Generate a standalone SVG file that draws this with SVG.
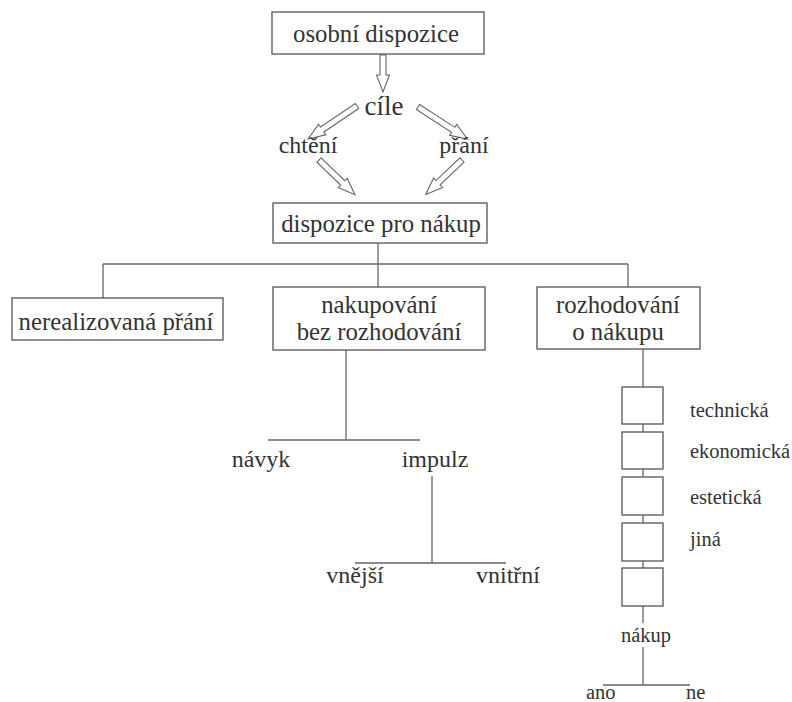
<svg xmlns="http://www.w3.org/2000/svg" width="792" height="702" viewBox="0 0 792 702">
<style>
.box{fill:#fff;stroke:#555;stroke-width:1.3}
.ln{stroke:#666;stroke-width:1.3;fill:none}
.arr{fill:#fff;stroke:#666;stroke-width:1.1;stroke-linejoin:miter}
text{font-family:"Liberation Serif","DejaVu Serif",serif;fill:#333}
.big{font-size:24.8px;text-anchor:middle}
.mid{font-size:24px;text-anchor:middle}
.sm{font-size:20.5px}
</style>
<rect width="792" height="702" fill="#fff"/>
<g id="connectors">
<line class="ln" x1="378" y1="243" x2="378" y2="287"/>
<line class="ln" x1="103" y1="264" x2="628" y2="264"/>
<line class="ln" x1="103" y1="264" x2="103" y2="298"/>
<line class="ln" x1="628" y1="264" x2="628" y2="287"/>
<line class="ln" x1="346" y1="350" x2="346" y2="440"/>
<line class="ln" x1="268" y1="440" x2="420" y2="440"/>
<line class="ln" x1="432" y1="476" x2="432" y2="563"/>
<line class="ln" x1="355" y1="563" x2="506" y2="563"/>
<line class="ln" x1="643" y1="349" x2="643" y2="623"/>
<line class="ln" x1="643" y1="647" x2="643" y2="685"/>
<line class="ln" x1="603" y1="685" x2="690" y2="685"/>
<polygon class="arr" points="0,-3 20,-3 20,-6.5 37,0 20,6.5 20,3 0,3" transform="translate(383,55) rotate(90)"/>
<polygon class="arr" points="0,-3 42,-3 42,-6.5 59,0 42,6.5 42,3 0,3" transform="translate(357,106) rotate(146)"/>
<polygon class="arr" points="0,-3 42,-3 42,-6.5 59,0 42,6.5 42,3 0,3" transform="translate(418,107) rotate(33)"/>
<polygon class="arr" points="0,-3 33,-3 33,-6.5 50,0 33,6.5 33,3 0,3" transform="translate(319,160) rotate(44)"/>
<polygon class="arr" points="0,-3 33,-3 33,-6.5 50,0 33,6.5 33,3 0,3" transform="translate(462,160) rotate(136.5)"/>
</g>
<g id="osobni"><rect class="box" x="272" y="12" width="212" height="42"/><text class="big" x="376" y="42" font-size="24.5">osobní dispozice</text></g>
<g id="cile"><text x="384" y="115" font-size="27" text-anchor="middle">cíle</text></g>
<g id="chteni"><text class="mid" x="308" y="153" font-size="25.5">chtění</text></g>
<g id="prani"><text class="mid" x="464" y="153" font-size="25.5">přání</text></g>
<g id="dispozice"><rect class="box" x="273" y="203" width="214" height="40"/><text class="big" x="381" y="232">dispozice pro nákup</text></g>
<g id="nerealizovana"><rect class="box" x="12" y="298" width="211" height="42"/><text class="big" x="116" y="330" font-size="24.9">nerealizovaná přání</text></g>
<g id="nakupovani"><rect class="box" x="273" y="287" width="212" height="63"/><text class="big" x="379" y="313">nakupování</text><text class="big" x="379" y="340">bez rozhodování</text></g>
<g id="rozhodovani"><rect class="box" x="537" y="287" width="163" height="62"/><text class="big" x="618" y="313">rozhodování</text><text class="big" x="618" y="340">o nákupu</text></g>
<g id="navyk"><text class="mid" x="261" y="467">návyk</text></g>
<g id="impulz"><text class="mid" x="435" y="467">impulz</text></g>
<g id="vnejsi"><text class="mid" x="355" y="583">vnější</text></g>
<g id="vnitrni"><text class="mid" x="508" y="583">vnitřní</text></g>
<g id="k1"><rect class="box" x="622" y="387" width="41" height="37"/><text class="sm" x="690" y="417">technická</text></g>
<g id="k2"><rect class="box" x="622" y="432" width="41" height="37"/><text class="sm" x="690" y="458">ekonomická</text></g>
<g id="k3"><rect class="box" x="622" y="477" width="41" height="38"/><text class="sm" x="690" y="504">estetická</text></g>
<g id="k4"><rect class="box" x="622" y="523" width="41" height="38"/><text class="sm" x="690" y="546">jiná</text></g>
<g id="k5"><rect class="box" x="622" y="568" width="41" height="38"/></g>
<g id="nakup"><text class="sm" x="646" y="642" text-anchor="middle">nákup</text></g>
<g id="ano"><text class="sm" x="586" y="699">ano</text></g>
<g id="ne"><text class="sm" x="686" y="699">ne</text></g>
</svg>
